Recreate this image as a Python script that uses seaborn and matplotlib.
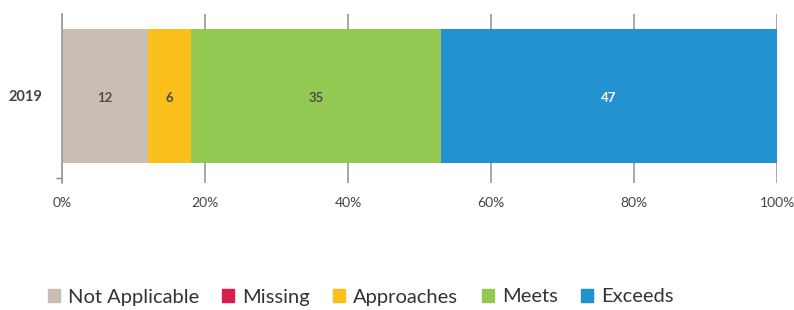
import matplotlib
matplotlib.use("Agg")
import matplotlib.pyplot as plt
import seaborn as sns
import pandas as pd
import numpy as np

years = ['2019']
categories = ['Not Applicable', 'Missing', 'Approaches', 'Meets', 'Exceeds']
values = [12, 0, 6, 35, 47]
colors = ['#c9bdb4', '#d81e4f', '#f9bf1a', '#93c953', '#2191d0']
label_colors = ['#4d4d4d', '#4d4d4d', '#4d4d4d', '#4d4d4d', '#ffffff']

sns.set_theme(style='white')
plt.rcParams['font.family'] = ['Lato', 'DejaVu Sans']

fig = plt.figure(figsize=(7.94, 3.1), dpi=100)
ax = fig.add_axes([62/794, 1-183/310, 715/794, 169/310])

# stacked bars: draw cumulative totals from largest to smallest
cum = np.cumsum(values)
for i in range(len(categories) - 1, -1, -1):
    df = pd.DataFrame({'year': years, 'val': [cum[i]]})
    sns.barplot(data=df, x='val', y='year', orient='h', color=colors[i],
                width=0.8, saturation=1, ax=ax, zorder=2, linewidth=0)

left = 0
for i, v in enumerate(values):
    if v > 0:
        ax.text(left + v / 2, 0.01, str(v), ha='center', va='center',
                fontsize=9.5, fontweight='bold', color=label_colors[i], zorder=5)
    left += v

ax.set_xlim(0, 100)
ax.set_ylim(0.52, -0.49)
ax.set_xticks([0, 20, 40, 60, 80, 100])
ax.set_xticklabels(['0%', '20%', '40%', '60%', '80%', '100%'], fontsize=10, color='#444444')
ax.set_yticks([0])
ax.set_yticklabels(['2019'], fontsize=10.5, fontweight='bold', color='#444444')
ax.set_yticks([0.49], minor=True)
ax.tick_params(axis='y', which='major', length=0, pad=14)
ax.tick_params(axis='y', which='minor', length=4, color='#888888', width=1, left=True)
ax.tick_params(axis='x', length=0, pad=10)
ax.set_xlabel('')
ax.set_ylabel('')
ax.grid(axis='x', color='#9a9a9a', linewidth=1.2, zorder=0)
ax.set_axisbelow(True)
for s in ['top', 'right', 'bottom']:
    ax.spines[s].set_visible(False)
ax.spines['left'].set_color('#9a9a9a')
ax.spines['left'].set_linewidth(1.2)
ax.spines['left'].set_zorder(4)

handles = [plt.Rectangle((0, 0), 1, 1, color=c) for c in colors]
fig.legend(handles, categories, loc='center', bbox_to_anchor=(0.454, 1-297/310),
           ncol=5, frameon=False, fontsize=14.5, handlelength=0.6, handleheight=0.6,
           handletextpad=0.4, columnspacing=1.15, labelcolor='#333333')

fig.savefig('out.png', dpi=100)
